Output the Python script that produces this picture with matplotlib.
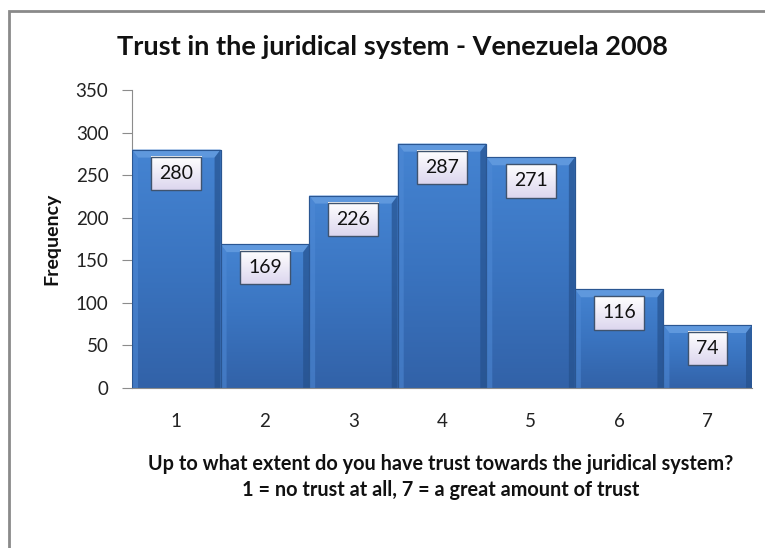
import numpy as np
import matplotlib
matplotlib.use("Agg")
import matplotlib.pyplot as plt
from matplotlib.patches import Rectangle, Polygon
from matplotlib.colors import LinearSegmentedColormap
from matplotlib.transforms import IdentityTransform

plt.rcParams['font.family'] = ['Lato', 'DejaVu Sans']

# Survey responses
categories = [1, 2, 3, 4, 5, 6, 7]
frequency = [280, 169, 226, 287, 271, 116, 74]
yticks = [0, 50, 100, 150, 200, 250, 300, 350]

title = "Trust in the juridical system - Venezuela 2008"
xlabel_lines = ["Up to what extent do you have trust towards the juridical system?",
                "1 = no trust at all, 7 = a great amount of trust"]
ylabel = "Frequency"

W, H, DPI = 765, 548, 100
fig = plt.figure(figsize=(W / DPI, H / DPI), dpi=DPI)
fig.patch.set_facecolor('white')

# outer chart frame (top and left edges visible)
fig.patches.append(Rectangle((9 / W, -0.2), 1.3, 0.2 + 1 - 11 / H,
                             transform=fig.transFigure, fill=False,
                             edgecolor='#8a8a8a', linewidth=2.0, zorder=0))

ax = fig.add_axes([132 / W, 1 - 388 / H, (752 - 132) / W, (388 - 90) / H])
ax.set_xlim(0.5, 7.5)
ax.set_ylim(0, 350)

bar_cmap = LinearSegmentedColormap.from_list(
    'bar', ['#3262a8', '#3a74c0', '#4584d2'])
grad = np.linspace(0, 1, 256).reshape(-1, 1)

bars = ax.bar(categories, frequency, width=1.0, color='#3b76c2',
              edgecolor='#2a5692', linewidth=0.8, zorder=2)

# px -> data conversion for bevels
px_x = 7.0 / (752 - 132)
px_y = 350.0 / (388 - 90)
bev_x = 6 * px_x
bev_y = 8 * px_y

for b, v in zip(bars, frequency):
    x0 = b.get_x()
    x1 = x0 + b.get_width()
    # vertical gradient fill clipped to the bar
    im = ax.imshow(grad, cmap=bar_cmap, aspect='auto', origin='lower',
                   extent=[x0, x1, 0, v], zorder=2.1)
    im.set_clip_path(b)
    # top bevel
    ax.add_patch(Polygon([[x0, v], [x1, v], [x1 - bev_x, v - bev_y],
                          [x0 + bev_x, v - bev_y]], closed=True,
                         facecolor='#5f98dd', edgecolor='none',
                         zorder=2.2))
    # left bevel
    ax.add_patch(Polygon([[x0, v], [x0 + bev_x, v - bev_y],
                          [x0 + bev_x, 0], [x0, 0]], closed=True,
                         facecolor='#4f8ad6', edgecolor='none', alpha=0.55,
                         zorder=2.2))
    # right bevel
    ax.add_patch(Polygon([[x1, v], [x1 - bev_x, v - bev_y],
                          [x1 - bev_x, 0], [x1, 0]], closed=True,
                         facecolor='#244f8a', edgecolor='none', alpha=0.65,
                         zorder=2.2))
    # bar outline
    ax.add_patch(Rectangle((x0, 0), x1 - x0, v, fill=False,
                           edgecolor='#2a5692', linewidth=0.8, zorder=2.3))

# value labels with a light gradient box
labels = []
for b, v in zip(bars, frequency):
    t = ax.annotate(str(v), xy=(b.get_x() + b.get_width() / 2, v),
                    xytext=(0, -17), textcoords='offset points',
                    ha='center', va='center', fontsize=14, color='#111111',
                    zorder=3.5,
                    bbox=dict(boxstyle='square,pad=0.42', facecolor='none',
                              edgecolor='#3f536e', linewidth=1.0))
    labels.append(t)

for side in ['top', 'right']:
    ax.spines[side].set_visible(False)
ax.spines['left'].set_color('#8c8c8c')
ax.spines['bottom'].set_color('#8c8c8c')
ax.spines['left'].set_zorder(1)

ax.set_xticks(categories)
ax.set_xticklabels([str(c) for c in categories])
ax.set_yticks(yticks)
ax.tick_params(axis='x', length=0, pad=18, labelsize=13.5, labelcolor='#222222')
ax.tick_params(axis='y', length=7, width=0.8, color='#8c8c8c', pad=10,
               labelsize=13.5, labelcolor='#222222')
ax.set_facecolor('none')

fig.text(392 / W, 1 - 47 / H, title, ha='center', va='center',
         fontsize=19.5, fontweight='bold', color='#111111')
fig.text(52 / W, 1 - 239 / H, ylabel, ha='center', va='center',
         rotation=90, fontsize=14, fontweight='bold', color='#111111')
fig.text(441 / W, 1 - 464 / H, xlabel_lines[0], ha='center', va='center',
         fontsize=14.3, fontweight='bold', color='#111111')
fig.text(441 / W, 1 - 490 / H, xlabel_lines[1], ha='center', va='center',
         fontsize=14.3, fontweight='bold', color='#111111')

# gradient fill behind each label box
box_cmap = LinearSegmentedColormap.from_list('box', ['#dcd6ee', '#ffffff'])
fig.canvas.draw()
renderer = fig.canvas.get_renderer()
for t in labels:
    ext = t.get_bbox_patch().get_window_extent(renderer)
    bim = ax.imshow(grad, cmap=box_cmap, aspect='auto', origin='lower',
                    extent=[ext.x0, ext.x1, ext.y0, ext.y1], zorder=3.2)
    bim.set_transform(IdentityTransform())
ax.set_xlim(0.5, 7.5)
ax.set_ylim(0, 350)

fig.savefig('out.png', dpi=DPI)
